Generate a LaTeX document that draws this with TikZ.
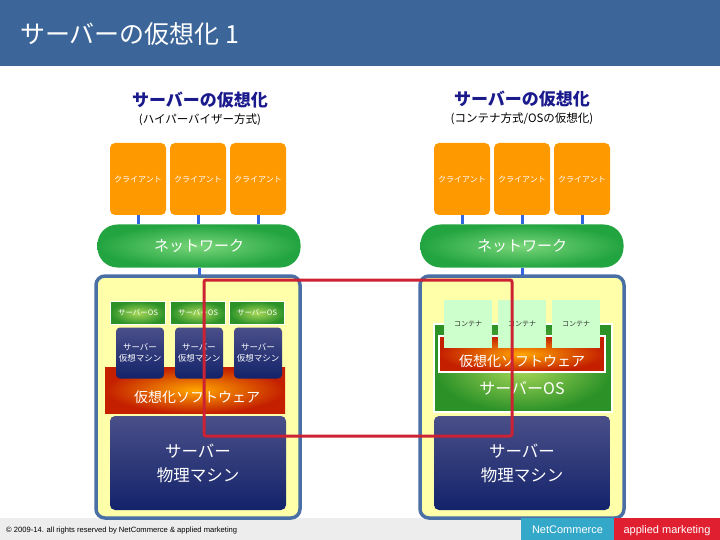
\documentclass[tikz,border=0pt]{standalone}
\usepackage{fontspec}
\setmainfont{Noto Sans CJK JP}
\newfontfamily\latinsans{Liberation Sans}
\definecolor{hdr}{HTML}{3C6699}
\definecolor{navyt}{HTML}{1A1A8C}
\definecolor{orng}{HTML}{FF9900}
\definecolor{linkb}{HTML}{3366DD}
\definecolor{boxb}{HTML}{4A6FA5}
\definecolor{boxy}{HTML}{FFFFAA}
\definecolor{redl}{HTML}{CC2233}
\definecolor{cont}{HTML}{CCFFCC}
\definecolor{ncblue}{HTML}{33A8C8}
\definecolor{amred}{HTML}{E02030}
\definecolor{netin}{HTML}{7AD67A}
\definecolor{netout}{HTML}{22A440}
\definecolor{osin}{HTML}{A8D858}
\definecolor{osout}{HTML}{2C9228}
\definecolor{vstop}{HTML}{4A4F88}
\definecolor{vsbot}{HTML}{13236A}
\definecolor{virtin}{HTML}{FFA500}
\definecolor{virtout}{HTML}{C42000}
\begin{document}
\begin{tikzpicture}[x=1pt,y=-1pt,
  client/.style={fill=orng,rounded corners=5pt,minimum width=56pt,minimum height=72pt,inner sep=0pt,text=white,font=\fontsize{8}{9}\selectfont},
  link/.style={linkb,line width=3pt},
  netw/.style={rounded corners=20pt,inner color=netin,outer color=netout,minimum width=203pt,minimum height=43pt,inner sep=0pt,text=white,font=\fontsize{15}{17}\selectfont},
  srvbox/.style={draw=boxb,line width=3.5pt,fill=boxy,rounded corners=9pt},
  sos/.style={inner color=osin,outer color=osout,draw=white,line width=1pt,minimum width=55pt,minimum height=23pt,inner sep=0pt,text=white,font=\fontsize{7.5}{8}\selectfont},
  vm/.style={top color=vstop,bottom color=vsbot,rounded corners=4pt,minimum width=48pt,minimum height=51pt,inner sep=0pt,text=white,align=center,font=\fontsize{8.5}{11}\selectfont},
  virt/.style={inner color=virtin,outer color=virtout,inner sep=0pt,text=white},
  phys/.style={top color=vstop,bottom color=vsbot,rounded corners=5pt,minimum width=176pt,minimum height=94pt,inner sep=0pt,text=white,align=center,font=\fontsize{16.5}{24}\selectfont},
  cnt/.style={fill=cont,minimum width=48pt,minimum height=48pt,inner sep=0pt,text=black!80,font=\fontsize{7}{8}\selectfont},
  hd/.style={text=navyt,font=\fontsize{17}{20}\selectfont\bfseries},
  sub/.style={font=\fontsize{11.5}{14}\selectfont},
  tag/.style={text=white,minimum height=22pt,inner sep=0pt,font=\latinsans\fontsize{11}{12}\selectfont}
]
\useasboundingbox (0,0) rectangle (720,540);
% header
\fill[hdr] (0,0) rectangle (720,66);
\node[anchor=west,text=white,font=\fontsize{25}{28}\selectfont,inner sep=0pt] (title) at (20,34) {サーバーの仮想化 1};
% headings
\node[hd] (hl) at (200,100) {サーバーの仮想化};
\node[sub] (sl) at (200,120) {(ハイパーバイザー方式)};
\node[hd] (hr) at (522,99) {サーバーの仮想化};
\node[sub] (sr) at (522,119) {(コンテナ方式/OSの仮想化)};
% footer
\fill[black!7] (0,518) rectangle (720,540);
% server boxes
\draw[srvbox] (96,276) rectangle (300,518);
\draw[srvbox] (420,276) rectangle (624,518);
% clients
\node[client] (cl1) at (138,179) {クライアント};
\node[client] (cl2) at (198,179) {クライアント};
\node[client] (cl3) at (258,179) {クライアント};
\node[client] (cr1) at (462,179) {クライアント};
\node[client] (cr2) at (522,179) {クライアント};
\node[client] (cr3) at (582,179) {クライアント};
% networks
\node[netw] (nl) at (199,246) {ネットワーク};
\node[netw] (nr) at (522,246) {ネットワーク};
\foreach \c in {cl1,cl2,cl3} \draw[link] (\c.south) -- (\c.south |- nl.north);
\foreach \c in {cr1,cr2,cr3} \draw[link] (\c.south) -- (\c.south |- nr.north);
\coordinate (bl) at (199,275);
\coordinate (br) at (522,275);
\draw[link] (nl.south) -- (bl);
\draw[link] (nr.south) -- (br);
% left interior
\node[virt,minimum width=180pt,minimum height=46pt] (vsl) at (195,390) {};
\node[text=white,font=\fontsize{14}{16}\selectfont] (vsltxt) at (197,397) {仮想化ソフトウェア};
\node[sos] (os1) at (138,313) {サーバーOS};
\node[sos] (os2) at (198,313) {サーバーOS};
\node[sos] (os3) at (257,313) {サーバーOS};
\node[vm] (vm1) at (140,353) {サーバー\\仮想マシン};
\node[vm] (vm2) at (199,353) {サーバー\\仮想マシン};
\node[vm] (vm3) at (258,353) {サーバー\\仮想マシン};
\node[phys] (pl) at (198,463) {サーバー\\物理マシン};
% right interior
\node[sos,minimum width=178pt,minimum height=88pt,line width=1.5pt] (osr) at (523,368) {};
\node[text=white,font=\fontsize{16}{18}\selectfont] (osrtxt) at (522,388) {サーバーOS};
\node[virt,draw=white,line width=1.5pt,minimum width=166pt,minimum height=36pt] (vsr) at (522,354) {};
\node[text=white,font=\fontsize{14}{16}\selectfont] (vsrtxt) at (522,361) {仮想化ソフトウェア};
\node[cnt] (k1) at (468,324) {コンテナ};
\node[cnt] (k2) at (522,324) {コンテナ};
\node[cnt] (k3) at (576,324) {コンテナ};
\node[phys] (pr) at (522,463) {サーバー\\物理マシン};
% red highlight
\draw[redl,line width=3pt,rounded corners=2pt] (204,280) rectangle (512,436);
% footer texts
\node[anchor=west,inner sep=0pt,font=\latinsans\fontsize{7.6}{9}\selectfont] (copy) at (6,531) {© 2009-14. all rights reserved by NetCommerce \& applied marketing};
\fill[ncblue] (521,518) rectangle (614,540);
\fill[amred] (614,518) rectangle (720,540);
\node[tag,anchor=base] (nc) at (567.5,533) {NetCommerce};
\node[tag,anchor=base] (am) at (667,533) {applied marketing};
\end{tikzpicture}
\end{document}
